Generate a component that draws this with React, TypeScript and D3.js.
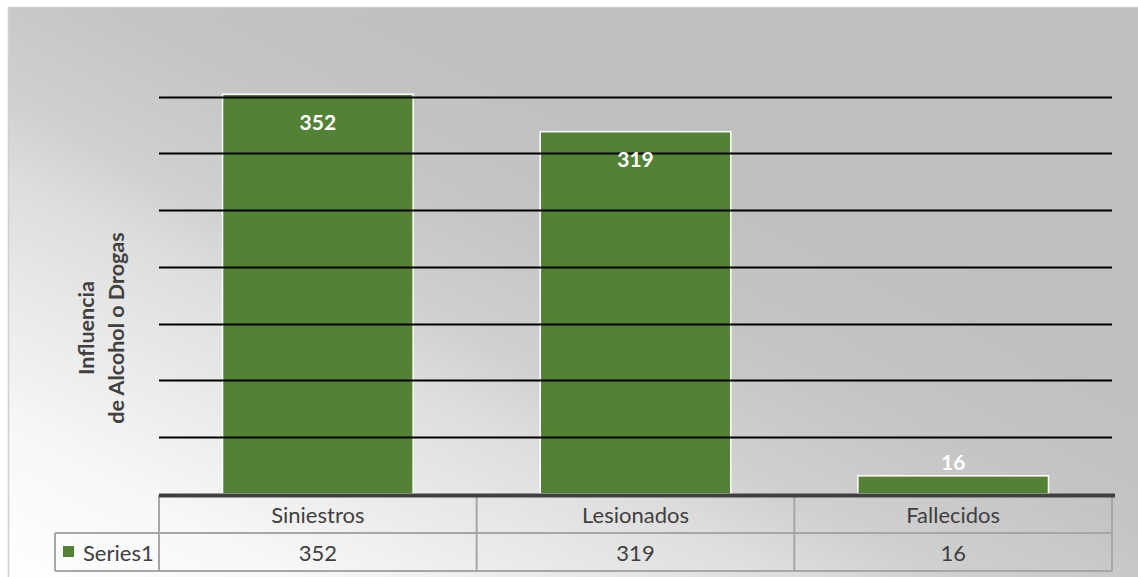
import React from "react";
import * as d3 from "d3";

const categories = ["Siniestros", "Lesionados", "Fallecidos"];
const values = [352, 319, 16];
const seriesName = "Series1";
const gridTicks = [50, 100, 150, 200, 250, 300, 350];
const titleLines = ["Influencia", "de Alcohol o Drogas"];

const W = 1138;
const H = 577;
const plotLeft = 159;
const plotRight = 1112;
const axisY = 494;
const topY = 96.5;
const rowH = 38;
const legendLeft = 55;
const FONT = "Lato, 'Open Sans', sans-serif";

export default function App() {
  const y = d3.scaleLinear().domain([0, 350]).range([axisY, topY]);
  const x = d3
    .scaleBand<string>()
    .domain(categories)
    .range([plotLeft, plotRight])
    .paddingInner(0.4)
    .paddingOuter(0.2);
  const col = d3.scaleBand<string>().domain(categories).range([plotLeft, plotRight]).padding(0);
  const row1 = axisY + 1;
  const row2 = row1 + rowH;
  const row3 = row2 + rowH;
  const tableColor = "#a6a6a6";
  const textColor = "#404040";

  return (
    <svg
      width={W}
      height={H}
      style={{ position: "absolute", left: 0, top: 0, display: "block" }}
    >
      <defs>
        <linearGradient id="bg" x1="0" y1="1" x2="1" y2="0">
          <stop offset="0" stopColor="#ffffff" />
          <stop offset="0.14" stopColor="#f7f7f7" />
          <stop offset="0.35" stopColor="#dedede" />
          <stop offset="0.42" stopColor="#d0d0d0" />
          <stop offset="0.55" stopColor="#c4c4c4" />
          <stop offset="0.7" stopColor="#bfbfbf" />
          <stop offset="1" stopColor="#bfbfbf" />
        </linearGradient>
      </defs>
      <rect x={0} y={0} width={W} height={H} fill="#ffffff" />
      <rect x={8.5} y={7.5} width={1140} height={580} fill="url(#bg)" stroke="#d0d0d0" strokeWidth={1.5} />

      {/* bars */}
      {categories.map((c, i) => (
        <rect
          key={c}
          x={x(c)}
          y={y(values[i])}
          width={x.bandwidth()}
          height={axisY - y(values[i])}
          fill="#538135"
          stroke="#ffffff"
          strokeWidth={1.5}
        />
      ))}

      {/* gridlines */}
      {gridTicks.map((t) => (
        <line
          key={t}
          x1={plotLeft}
          x2={plotRight}
          y1={Math.round(y(t)) + 0.5}
          y2={Math.round(y(t)) + 0.5}
          stroke="#000000"
          strokeWidth={2}
        />
      ))}

      {/* data labels */}
      {categories.map((c, i) => {
        const h = axisY - y(values[i]);
        const inside = h > 40;
        const ly = inside ? y(values[i]) + 27 : y(values[i]) - 14;
        return (
          <text
            key={c}
            x={(x(c) as number) + x.bandwidth() / 2}
            y={ly}
            textAnchor="middle"
            dominantBaseline="central"
            fill="#ffffff"
            fontFamily={FONT}
            fontWeight={700}
            fontSize={21}
          >
            {values[i]}
          </text>
        );
      })}

      {/* axis title */}
      {titleLines.map((t, i) => (
        <text
          key={t}
          transform={`translate(${86 + i * 30},328) rotate(-90)`}
          textAnchor="middle"
          dominantBaseline="central"
          fill={textColor}
          fontFamily={FONT}
          fontWeight={700}
          fontSize={21.5}
        >
          {t}
        </text>
      ))}

      {/* data table */}
      <g stroke={tableColor} strokeWidth={2} fill="none">
        <line x1={plotLeft} x2={plotLeft} y1={row1} y2={row3} />
        {categories.map((c) => (
          <line
            key={c}
            x1={(col(c) as number) + col.bandwidth()}
            x2={(col(c) as number) + col.bandwidth()}
            y1={row1}
            y2={row3}
          />
        ))}
        <line x1={legendLeft} x2={plotRight} y1={row2} y2={row2} />
        <line x1={legendLeft} x2={plotRight} y1={row3} y2={row3} />
        <line x1={legendLeft} x2={legendLeft} y1={row2} y2={row3} />
      </g>
      {categories.map((c, i) => (
        <g key={c}>
          <text
            x={(col(c) as number) + col.bandwidth() / 2}
            y={(row1 + row2) / 2}
            textAnchor="middle"
            dominantBaseline="central"
            fill={textColor}
            fontFamily={FONT}
            fontSize={22}
          >
            {c}
          </text>
          <text
            x={(col(c) as number) + col.bandwidth() / 2}
            y={(row2 + row3) / 2}
            textAnchor="middle"
            dominantBaseline="central"
            fill={textColor}
            fontFamily={FONT}
            fontSize={22}
          >
            {values[i]}
          </text>
        </g>
      ))}
      <rect x={63} y={546} width={11} height={11} fill="#538135" />
      <text
        x={83}
        y={(row2 + row3) / 2}
        dominantBaseline="central"
        fill={textColor}
        fontFamily={FONT}
        fontSize={22}
      >
        {seriesName}
      </text>

      {/* category axis line */}
      <line x1={plotLeft} x2={plotRight + 3} y1={axisY + 1.5} y2={axisY + 1.5} stroke="#404040" strokeWidth={4} />
    </svg>
  );
}
